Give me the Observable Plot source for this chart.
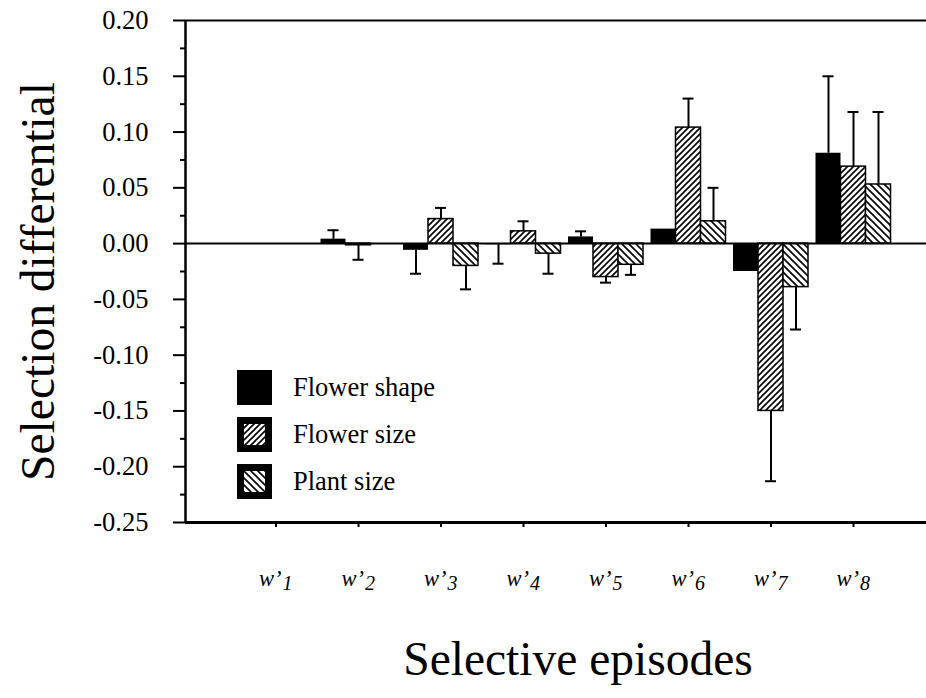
<!DOCTYPE html>
<html><head><meta charset="utf-8">
<script src="https://cdn.jsdelivr.net/npm/d3@7"></script>
<script src="https://cdn.jsdelivr.net/npm/@observablehq/plot@0.6"></script>
<style>
html,body{margin:0;padding:0;background:#fff;}
#wrap{position:relative;width:926px;height:698px;font-family:"Liberation Serif","Times New Roman",serif;color:#000;}
#legend{position:absolute;left:237px;top:370px;}
.item{position:absolute;left:0;display:flex;align-items:center;white-space:nowrap;font-size:26.5px;height:35px;}
.item span{margin-left:21px;}
</style></head><body>
<svg width="0" height="0" style="position:absolute">
<defs>
<pattern id="hatchFwd" width="6" height="6" patternUnits="userSpaceOnUse">
 <rect width="6" height="6" fill="white"/>
 <path d="M-1,1 L1,-1 M0,6 L6,0 M5,7 L7,5" stroke="black" stroke-width="1.6"/>
</pattern>
<pattern id="hatchBack" width="7" height="7" patternUnits="userSpaceOnUse">
 <rect width="7" height="7" fill="white"/>
 <path d="M-1,6 L1,8 M0,0 L7,7 M6,-1 L8,1" stroke="black" stroke-width="1.6"/>
</pattern>
</defs></svg>
<div id="wrap"><div id="legend"></div></div>
<script>
// ---- data ----
const episodes = ["w’1", "w’2", "w’3", "w’4", "w’5", "w’6", "w’7", "w’8"];
const traits = ["Flower shape", "Flower size", "Plant size"];
const flowerShape    = [0, 0.004, -0.006, -0.001, 0.006, 0.013, -0.025, 0.081];
const flowerShapeErr = [null, 0.008, 0.021, 0.017, 0.005, null, null, 0.069];
const flowerSize     = [0, -0.0015, 0.022, 0.011, -0.030, 0.104, -0.150, 0.069];
const flowerSizeErr  = [null, 0.013, 0.010, 0.009, 0.005, 0.026, 0.063, 0.049];
const plantSize      = [0, 0, -0.020, -0.009, -0.019, 0.020, -0.039, 0.053];
const plantSizeErr   = [null, null, 0.021, 0.018, 0.009, 0.030, 0.038, 0.065];
const yTicks = [-0.25, -0.20, -0.15, -0.10, -0.05, 0.00, 0.05, 0.10, 0.15, 0.20];
const yMinorTicks = [-0.225, -0.175, -0.125, -0.075, -0.025, 0.025, 0.075, 0.125, 0.175];
const xTitle = "Selective episodes";
const yTitle = "Selection differential";

// ---- layout ----
const series = [flowerShape, flowerSize, plantSize];
const errors = [flowerShapeErr, flowerSizeErr, plantSizeErr];
const fills = ["black", "url(#hatchFwd)", "url(#hatchBack)"];
const STEP = 82.5, BARPX = 25;
const barW = BARPX / STEP, half = 1.5 * barW, capHalf = 5.5 / STEP;
const xDomain = [1 - 90.5 / STEP, 1 + (926 - 275.5) / STEP];

const rows = [];
episodes.forEach((ep, i) => {
  traits.forEach((t, j) => {
    const v = series[j][i], e = errors[j][i];
    const x1 = (i + 1) - half + j * barW;
    rows.push({ep, idx: i + 1, trait: t, j, value: v, err: e, x1, x2: x1 + barW, xc: x1 + barW / 2,
      errEnd: e == null ? null : v + Math.sign(v) * e});
  });
});
const errRows = rows.filter(r => r.err != null);

const marks = [
  Plot.ruleY([yTicks[yTicks.length - 1]], {strokeWidth: 2}),
  Plot.ruleY([yTicks[0]], {strokeWidth: 3}),
  Plot.ruleX([xDomain[0]], {strokeWidth: 2.5}),
  ...traits.map((t, j) => Plot.rect(rows.filter(r => r.j === j && r.value !== 0), {
    x1: "x1", x2: "x2", y1: () => 0, y2: "value",
    fill: fills[j], stroke: "black", strokeWidth: j === 0 ? 0 : 1.5
  })),
  Plot.ruleY([0], {strokeWidth: 2}),
  Plot.ruleX(errRows, {x: "xc", y1: "value", y2: "errEnd", strokeWidth: 2}),
  Plot.ruleY(errRows, {y: "errEnd", x1: d => d.xc - capHalf, x2: d => d.xc + capHalf, strokeWidth: 2}),
  Plot.axisY({ticks: yTicks, tickSize: 12, tickPadding: 25, tickFormat: d => d.toFixed(2),
    fontSize: 26.5, strokeWidth: 2, label: null}),
  Plot.axisY({ticks: yMinorTicks, tickSize: 5, tickFormat: () => "", strokeWidth: 2, label: null}),
  Plot.axisX({ticks: episodes.map((d, i) => i + 1), tickSize: 5, tickFormat: () => "", strokeWidth: 2, label: null}),
  Plot.text(episodes, {x: (d, i) => i + 1, frameAnchor: "bottom", text: d => d.slice(0, 2),
    textAnchor: "end", dx: 5.5, dy: 63, fontSize: 22.5, fontStyle: "italic"}),
  Plot.text(episodes, {x: (d, i) => i + 1, frameAnchor: "bottom", text: d => d.slice(2),
    textAnchor: "start", dx: 6.5, dy: 67, fontSize: 20, fontStyle: "italic"}),
  Plot.text([xTitle], {frameAnchor: "bottom", textAnchor: "middle", dx: 22, dy: 152, fontSize: 47.5}),
  Plot.text([yTitle], {frameAnchor: "left", textAnchor: "middle", rotate: -90, dx: -147, dy: 10, fontSize: 47.5})
];

const chart = Plot.plot({
  width: 926, height: 698,
  marginLeft: 185, marginRight: 0, marginTop: 20, marginBottom: 176,
  x: {type: "linear", domain: xDomain},
  y: {domain: [yTicks[0], yTicks[yTicks.length - 1]]},
  style: {fontFamily: "Liberation Serif, Times New Roman, serif", background: "white", color: "black", overflow: "visible"},
  marks
});
document.getElementById("wrap").prepend(chart);

// ---- legend ----
const legend = document.getElementById("legend");
traits.forEach((t, j) => {
  const item = document.createElement("div");
  item.className = "item";
  item.style.top = (j * 47) + "px";
  const inner = j === 0 ? "" : `<rect x="7" y="7" width="21" height="21" fill="${fills[j]}"/>`;
  item.innerHTML = `<svg width="35" height="35"><rect width="35" height="35" fill="black"/>${inner}</svg><span>${t}</span>`;
  legend.appendChild(item);
});
</script>
</body></html>
